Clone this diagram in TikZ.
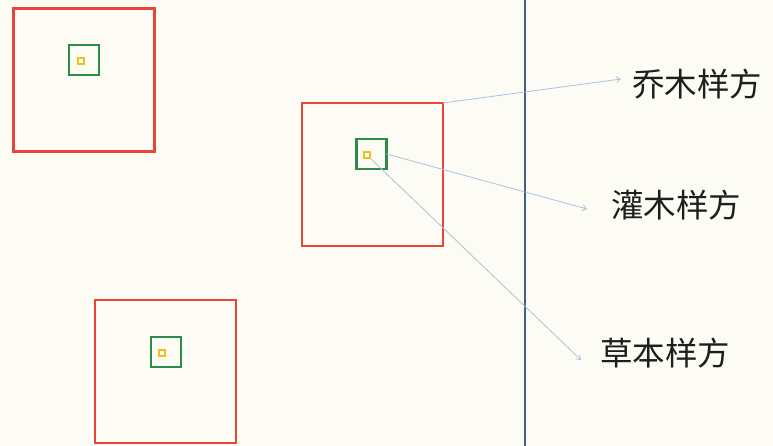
\documentclass[tikz,border=0pt]{standalone}
\usepackage{fontspec}
\newfontfamily\cjk{Noto Sans CJK SC}
\usetikzlibrary{arrows.meta}
\definecolor{bg}{HTML}{FCFCF4}
\definecolor{redbox}{HTML}{E8453A}
\definecolor{greenbox}{HTML}{2F8A4C}
\definecolor{yellowbox}{HTML}{F2BE1A}
\definecolor{divider}{HTML}{3E6088}
\definecolor{conncol}{HTML}{A9C2DE}
\definecolor{txt}{HTML}{1E1E1E}
\tikzset{
  bigquad/.style={draw=redbox, line width=2.2pt, minimum width=141pt, minimum height=143pt, inner sep=0pt, outer sep=0pt},
  midquad/.style={draw=greenbox, line width=2.2pt, minimum size=30pt, inner sep=0pt, outer sep=0pt},
  smallquad/.style={draw=yellowbox, line width=1.3pt, minimum size=6pt, inner sep=0pt, outer sep=0pt},
  lbl/.style={font=\cjk\fontsize{32.5pt}{36pt}\selectfont, text=txt, inner sep=0pt, anchor=west},
  conn/.style={draw=conncol, line width=0.8pt, -{Straight Barb[length=4pt,width=6pt]}},
}
\begin{document}
\begin{tikzpicture}[x=1pt,y=-1pt]
\fill[bg] (0,0) rectangle (773,446);
\useasboundingbox (0,0) rectangle (773,446);
% quadrat 1
\node[bigquad] (r1) at (84,80) {};
\node[midquad] (g1) at (84,60) {};
\node[smallquad] (y1) at (81,61) {};
% quadrat 2
\node[bigquad] (r2) at (372.5,174.5) {};
\node[midquad] (g2) at (371.5,154) {};
\node[smallquad] (y2) at (367,155) {};
% quadrat 3
\node[bigquad] (r3) at (165.5,371.5) {};
\node[midquad] (g3) at (166,352) {};
\node[smallquad] (y3) at (162,353) {};
% divider
\coordinate (dtop) at (525,0);
\coordinate (dbot) at (525,446);
\draw[divider, line width=1.8pt] (dtop) -- (dbot);
% labels
\node[lbl] (l1) at (632,84) {乔木样方};
\node[lbl] (l2) at (611,205) {灌木样方};
\node[lbl] (l3) at (600,353) {草本样方};
% connectors
\draw[conn] (r2.north east) -- ([xshift=-11pt,yshift=5pt]l1.west);
\draw[conn] (g2.east) -- ([xshift=-24pt,yshift=-4pt]l2.west);
\draw[conn] (y2.south east) -- ([xshift=-19pt,yshift=-7pt]l3.west);
\end{tikzpicture}
\end{document}
